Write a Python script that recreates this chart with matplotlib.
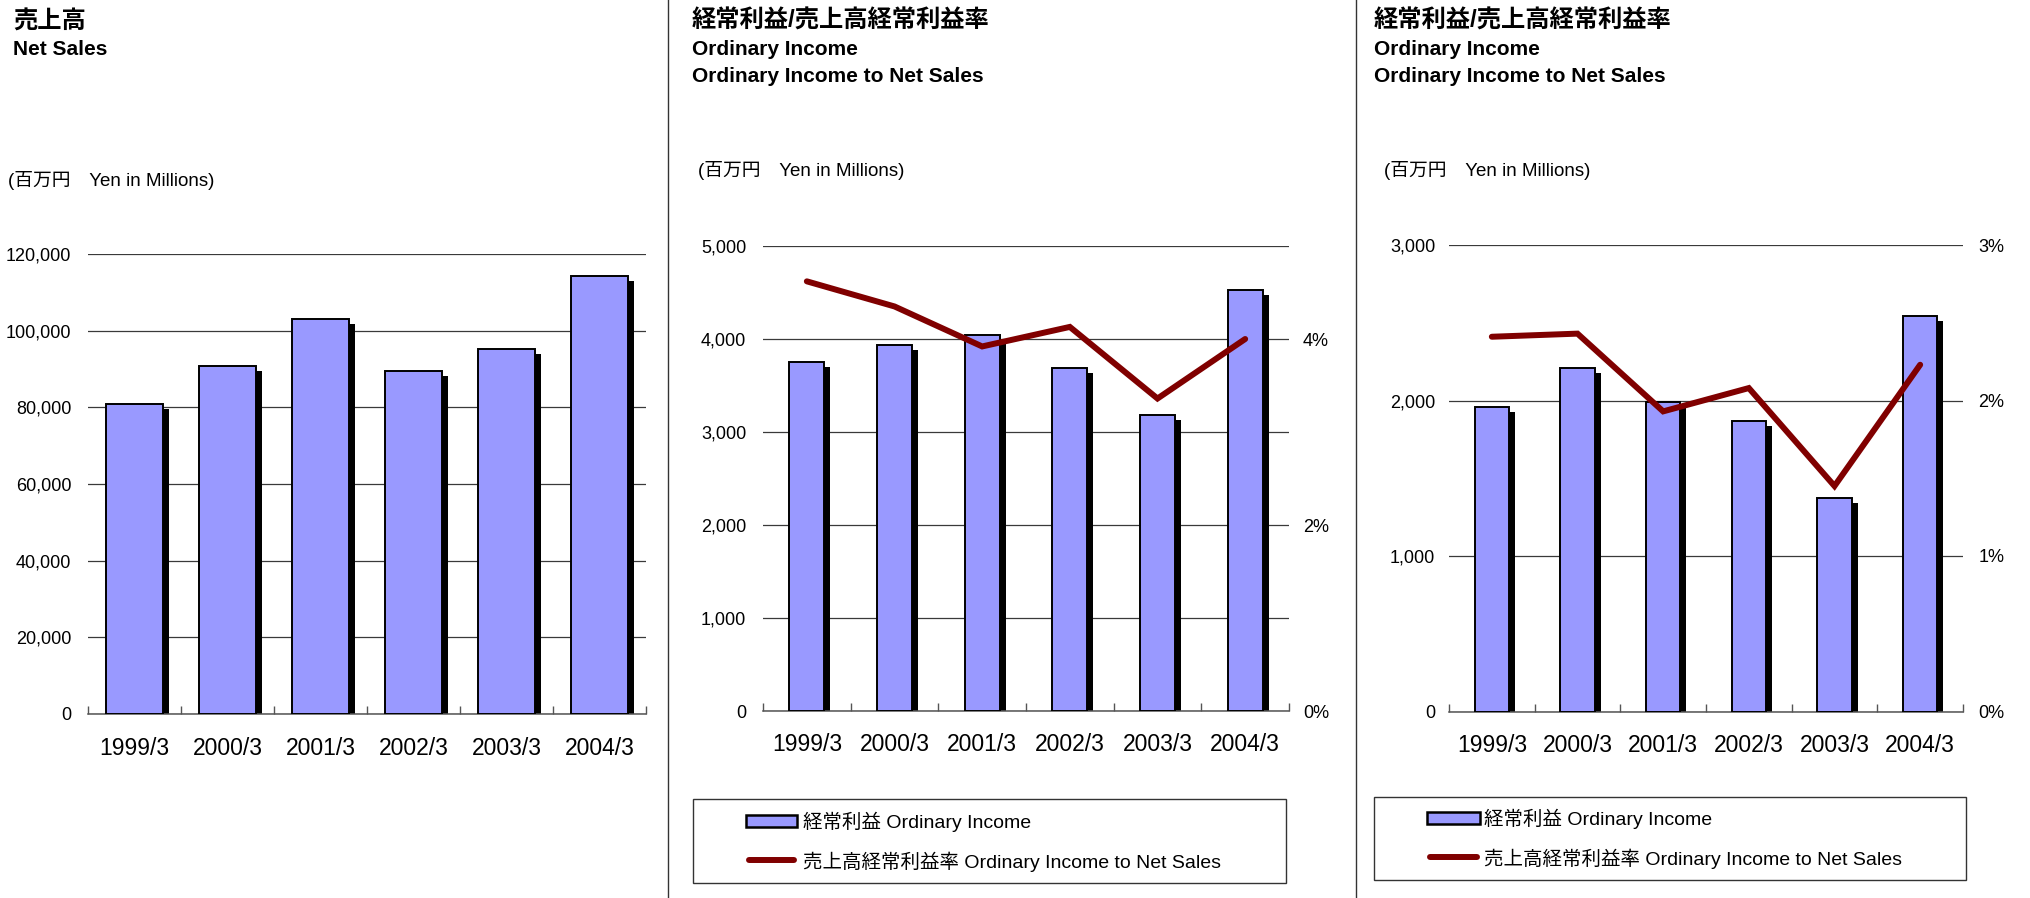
import numpy as np
import matplotlib
matplotlib.use("Agg")
import matplotlib.pyplot as plt
from matplotlib import font_manager
from matplotlib.patches import Rectangle
from matplotlib.ticker import FuncFormatter
from matplotlib.transforms import ScaledTranslation

# ---- fonts -------------------------------------------------------------
_installed = {f.name for f in font_manager.fontManager.ttflist}
LATIN = "Liberation Sans" if "Liberation Sans" in _installed else "DejaVu Sans"
plt.rcParams["font.family"] = [LATIN, "Noto Sans CJK JP", "DejaVu Sans"]

# ---- data --------------------------------------------------------------
periods = ["1999/3", "2000/3", "2001/3", "2002/3", "2003/3", "2004/3"]

net_sales = [81000, 90800, 103000, 89500, 95200, 114200]

ordinary_income_a = [3755, 3935, 4045, 3685, 3185, 4528]
income_ratio_a = [4.62, 4.35, 3.92, 4.13, 3.36, 4.00]

ordinary_income_b = [1956, 2210, 1990, 1865, 1375, 2543]
income_ratio_b = [2.41, 2.43, 1.93, 2.08, 1.45, 2.23]

# ---- style -------------------------------------------------------------
BAR_C = "#9999FF"
LINE_C = "#800000"
GRID_C = "#3a3a3a"
AXIS_C = "#555555"

W, H = 2031, 898
fig = plt.figure(figsize=(W / 100, H / 100), dpi=100)
fig.patch.set_facecolor("white")

# pixel-space overlay for titles, separators and legends
ov = fig.add_axes([0, 0, 1, 1], zorder=0)
ov.set_xlim(0, W)
ov.set_ylim(H, 0)
ov.axis("off")


def add_panel(x0, x1, ytop, ybot):
    return fig.add_axes([x0 / W, 1 - ybot / H, (x1 - x0) / W, (ybot - ytop) / H], zorder=1)


def style_axes(ax, ymax, ystep, xpad, ypad):
    n = len(periods)
    ax.set_xlim(-0.5, n - 0.5)
    ax.set_ylim(0, ymax)
    ax.set_yticks(np.arange(0, ymax + 1, ystep))
    ax.yaxis.set_major_formatter(FuncFormatter(lambda v, p: f"{int(round(v)):,}"))
    ax.set_xticks(np.arange(n))
    ax.set_xticklabels(periods)
    ax.set_xticks(np.arange(n + 1) - 0.5, minor=True)
    ax.tick_params(axis="x", which="major", length=0, pad=xpad, labelsize=16.5)
    ax.tick_params(axis="x", which="minor", direction="in", length=5.5,
                   width=1.0, color=AXIS_C)
    ax.tick_params(axis="y", which="both", length=0, pad=ypad, labelsize=13)
    for s in ("left", "right", "top"):
        ax.spines[s].set_visible(False)
    ax.spines["bottom"].set_color(AXIS_C)
    ax.spines["bottom"].set_linewidth(1.1)
    ax.yaxis.grid(True, color=GRID_C, linewidth=0.9)
    ax.set_axisbelow(True)
    ax.patch.set_alpha(0)


def draw_bars(ax, values, width):
    x = np.arange(len(values))
    shadow = ax.transData + ScaledTranslation(0.06, -0.05, fig.dpi_scale_trans)
    ax.bar(x, values, width, color="black", transform=shadow, zorder=2)
    ax.bar(x, values, width, color=BAR_C, edgecolor="black", linewidth=1.4, zorder=3)


def draw_ratio(ax, ratios, rmax, rticks, rpad):
    ax2 = ax.twinx()
    ax2.set_ylim(0, rmax)
    ax2.set_yticks(rticks)
    ax2.set_yticklabels([f"{t}%" for t in rticks])
    ax2.tick_params(axis="y", length=0, pad=rpad, labelsize=13)
    for s in ax2.spines.values():
        s.set_visible(False)
    ax2.plot(np.arange(len(ratios)), ratios, color=LINE_C, linewidth=4.3,
             solid_capstyle="round", solid_joinstyle="miter", zorder=5)
    return ax2


# ---- panel 1: net sales ------------------------------------------------
ax1 = add_panel(88, 646, 254, 714)
style_axes(ax1, 120000, 20000, xpad=16.5, ypad=12)
draw_bars(ax1, net_sales, 0.62)

# ---- panel 2: ordinary income with ratio -------------------------------
ax2 = add_panel(763, 1289, 246, 711)
style_axes(ax2, 5000, 1000, xpad=16, ypad=12)
draw_bars(ax2, ordinary_income_a, 0.40)
draw_ratio(ax2, income_ratio_a, 5, [0, 2, 4], rpad=10)

# ---- panel 3: ordinary income with ratio -------------------------------
ax3 = add_panel(1449, 1963, 245, 711.5)
style_axes(ax3, 3000, 1000, xpad=16, ypad=10)
draw_bars(ax3, ordinary_income_b, 0.40)
draw_ratio(ax3, income_ratio_b, 3, [0, 1, 2, 3], rpad=11)

# ---- separators --------------------------------------------------------
for xs in (667.5, 1355.5):
    ov.plot([xs, xs], [0, H], color="#333333", linewidth=1.0)

# ---- titles ------------------------------------------------------------
JP_TITLE = dict(fontsize=17.5, fontweight="bold", va="baseline", ha="left")
EN_TITLE = dict(fontsize=15, fontweight="bold", va="baseline", ha="left")
UNIT = dict(fontsize=13.5, va="baseline", ha="left")

ov.text(13, 29, "売上高", **JP_TITLE)
ov.text(13, 55, "Net Sales", **EN_TITLE)
ov.text(8, 186, "(百万円\u3000Yen in Millions)", **UNIT)

for tx, ux in ((692, 698), (1374, 1384)):
    ov.text(tx, 28, "経常利益/売上高経常利益率", **JP_TITLE)
    ov.text(tx, 55, "Ordinary Income", **EN_TITLE)
    ov.text(tx, 82, "Ordinary Income to Net Sales", **EN_TITLE)
    ov.text(ux, 176, "(百万円\u3000Yen in Millions)", **UNIT)


# ---- legends -----------------------------------------------------------
def legend_box(box, hx, patch_y, line_y, text_x, base1, base2):
    x0, x1, y0, y1 = box
    ov.add_patch(Rectangle((x0, y0), x1 - x0, y1 - y0, fill=False,
                           edgecolor="#333333", linewidth=1.0))
    ov.add_patch(Rectangle((hx[0], patch_y - 6), hx[1] - hx[0], 12,
                           facecolor=BAR_C, edgecolor="black", linewidth=1.8))
    ov.plot([hx[0] + 3, hx[1] - 3], [line_y, line_y], color=LINE_C,
            linewidth=4.3, solid_capstyle="round")
    ov.text(text_x, base1, "経常利益 Ordinary Income", fontsize=14,
            va="baseline", ha="left")
    ov.text(text_x, base2, "売上高経常利益率 Ordinary Income to Net Sales",
            fontsize=14, va="baseline", ha="left")


legend_box((693, 1286, 799, 883), (746, 797), 821, 860, 803, 828, 868)
legend_box((1374, 1966, 797, 880), (1427, 1480), 818, 857, 1484, 825, 865)

fig.savefig("out.png", dpi=100, facecolor="white")
